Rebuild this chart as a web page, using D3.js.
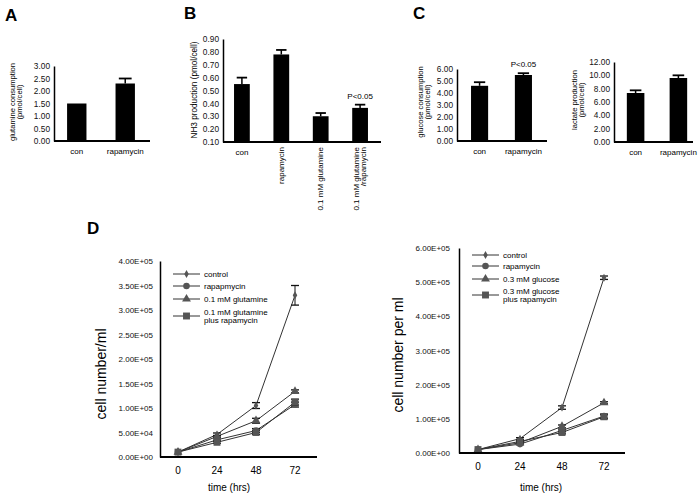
<!DOCTYPE html>
<html><head><meta charset="utf-8">
<script src="https://cdn.jsdelivr.net/npm/d3@7"></script>
<style>body{margin:0;background:#fff}svg{display:block;font-family:"Liberation Sans",Arial,sans-serif}</style>
</head><body><svg id="c" width="700" height="497"></svg>
<script>
// ---------- DATA ----------
const catsA = ["con", "rapamycin"];
const valsA = [1.5, 2.3];
const errsA = [0, 0.2];
const ticksA = [0, 0.5, 1, 1.5, 2, 2.5, 3];

const catsB = ["con", "rapamycin", "0.1 mM glutamine", "0.1 mM glutamine\n/rapamycin"];
const valsB = [0.55, 0.78, 0.30, 0.365];
const errsB = [0.05, 0.035, 0.025, 0.025];
const ticksB = [0.1, 0.2, 0.3, 0.4, 0.5, 0.6, 0.7, 0.8, 0.9];

const catsC1 = ["con", "rapamycin"];
const valsC1 = [4.6, 5.5];
const errsC1 = [0.3, 0.15];
const ticksC1 = [0, 1, 2, 3, 4, 5, 6];

const catsC2 = ["con", "rapamycin"];
const valsC2 = [7.35, 9.6];
const errsC2 = [0.4, 0.4];
const ticksC2 = [0, 2, 4, 6, 8, 10, 12];

const hours = [0, 24, 48, 72];
const seriesNamesL = ["control", "rapapmycin", "0.1 mM glutamine", "0.1 mM glutamine\nplus rapamycin"];
const controlL = [1.0e4, 4.6e4, 1.05e5, 3.3e5];
const controlLErr = [0, 3e3, 6e3, 2.0e4];
const rapaL = [1.0e4, 3.5e4, 5.4e4, 1.07e5];
const rapaLErr = [0, 2e3, 4e3, 5e3];
const glutL = [1.0e4, 4.2e4, 7.4e4, 1.34e5];
const glutLErr = [0, 2e3, 5e3, 3e3];
const glutRapaL = [1.0e4, 3.0e4, 5.0e4, 1.12e5];
const glutRapaLErr = [0, 2e3, 4e3, 6e3];
const ticksDL = [0, 5e4, 1e5, 1.5e5, 2e5, 2.5e5, 3e5, 3.5e5, 4e5];

const seriesNamesR = ["control", "rapamycin", "0.3 mM glucose", "0.3 mM glucose\nplus rapamycin"];
const controlR = [1.0e4, 4.2e4, 1.33e5, 5.13e5];
const controlRErr = [0, 3e3, 5e3, 5e3];
const rapaR = [1.0e4, 2.6e4, 6.6e4, 1.08e5];
const rapaRErr = [0, 2e3, 4e3, 6e3];
const glucR = [1.0e4, 3.0e4, 7.8e4, 1.47e5];
const glucRErr = [0, 2e3, 4e3, 3e3];
const glucRapaR = [1.0e4, 3.4e4, 6.0e4, 1.06e5];
const glucRapaRErr = [0, 2e3, 4e3, 6e3];
const ticksDR = [0, 1e5, 2e5, 3e5, 4e5, 5e5, 6e5];

// ---------- DRAW ----------
const svg = d3.select("#c");
svg.append("rect").attr("width", 700).attr("height", 497).attr("fill", "#fff");

function letter(t, x, y) {
  svg.append("text").attr("x", x).attr("y", y).attr("font-size", 17).attr("font-weight", "bold").attr("fill", "#000").text(t);
}
letter("A", 5, 21); letter("B", 184, 19); letter("C", 413, 19); letter("D", 87, 234);

function multiText(g, lines, lh) {
  const n = lines.length;
  lines.forEach((l, i) => {
    g.append("tspan").attr("x", 0).attr("dy", i === 0 ? ((-(n - 1) / 2) * lh + 0.35 * 7.5) : lh).text(l);
  });
}

function barPanel(c) {
  const g = svg.append("g");
  const x = d3.scaleBand().domain(c.cats).range(c.xr).paddingInner(c.pi).paddingOuter(c.po);
  const y = d3.scaleLinear().domain(c.domain).range(c.yr);
  g.selectAll("rect.bar").data(c.vals).join("rect")
    .attr("x", (d, i) => x(c.cats[i])).attr("width", x.bandwidth())
    .attr("y", d => y(d)).attr("height", d => y(c.domain[0]) - y(d)).attr("fill", "#000");
  c.vals.forEach((v, i) => {
    if (!c.errs[i]) return;
    const cx = x(c.cats[i]) + x.bandwidth() / 2;
    g.append("line").attr("x1", cx).attr("x2", cx).attr("y1", y(v)).attr("y2", y(v + c.errs[i])).attr("stroke", "#000").attr("stroke-width", 1.5);
    g.append("line").attr("x1", cx - x.bandwidth() * 0.33).attr("x2", cx + x.bandwidth() * 0.33)
      .attr("y1", y(v + c.errs[i])).attr("y2", y(v + c.errs[i])).attr("stroke", "#000").attr("stroke-width", 1.8);
  });
  const ax = g.append("g").attr("transform", `translate(${c.xr[0]},0)`)
    .call(d3.axisLeft(y).tickValues(c.ticks).tickSize(0).tickPadding(4).tickFormat(d3.format(".2f")));
  ax.select(".domain").attr("stroke-width", 1.5).attr("stroke", "#000");
  ax.selectAll("text").attr("font-size", 8.3).attr("font-family", "Liberation Sans, Arial, sans-serif").attr("fill", "#111");
  g.append("line").attr("x1", c.xr[0]).attr("x2", c.axisEnd).attr("y1", y(c.domain[0])).attr("y2", y(c.domain[0]))
    .attr("stroke", "#000").attr("stroke-width", 1.8);
  c.cats.forEach((cat, i) => {
    const cx = x(cat) + x.bandwidth() / 2;
    if (c.rotate && i > 0) {
      const t = g.append("text").attr("transform", `translate(${cx},${y(c.domain[0]) + 5}) rotate(-90)`)
        .attr("text-anchor", "end").attr("font-size", 8).attr("fill", "#000");
      multiText(t, cat.split("\n"), 7.5);
    } else {
      g.append("text").attr("x", cx).attr("y", y(c.domain[0]) + 13).attr("text-anchor", "middle").attr("font-size", 8).attr("fill", "#000").text(cat);
    }
  });
  const yl = g.append("text").attr("transform", `translate(${c.ylx},${c.yly}) rotate(-90)`)
    .attr("text-anchor", "middle").attr("font-size", c.ylfs || 7.6).attr("fill", "#000");
  multiText(yl, c.ylabel, 7.2);
  if (c.annot) {
    const i = c.annot.index;
    g.append("text").attr("x", x(c.cats[i]) + x.bandwidth() / 2)
      .attr("y", y(c.vals[i] + c.errs[i]) - 6).attr("text-anchor", "middle").attr("font-size", 8).attr("fill", "#000").text(c.annot.text);
  }
}

barPanel({cats: catsA, vals: valsA, errs: errsA, ticks: ticksA, domain: [0, 3], xr: [54, 148], pi: 0.6, po: 0.27,
  yr: [141, 66], axisEnd: 150, ylabel: ["glutamine consumption", "(pmol/cell)"], ylx: 16, yly: 102});
barPanel({cats: catsB, vals: valsB, errs: errsB, ticks: ticksB, domain: [0.1, 0.9], xr: [223, 379], pi: 0.6, po: 0.28,
  yr: [142, 39], axisEnd: 381, rotate: true, ylabel: ["NH3 production (pmol/cell)"], ylx: 194, yly: 90, ylfs: 8.2,
  annot: {index: 3, text: "P<0.05"}});
barPanel({cats: catsC1, vals: valsC1, errs: errsC1, ticks: ticksC1, domain: [0, 6], xr: [457, 546], pi: 0.61, po: 0.32,
  yr: [141, 69], axisEnd: 547, ylabel: ["glucose consumption", "(pmol/cell)"], ylx: 424, yly: 102,
  annot: {index: 1, text: "P<0.05"}});
barPanel({cats: catsC2, vals: valsC2, errs: errsC2, ticks: ticksC2, domain: [0, 12], xr: [614, 700], pi: 0.59, po: 0.3,
  yr: [142, 62], axisEnd: 693, ylabel: ["lactate production", "(pmol/cell)"], ylx: 578, yly: 100});

const symbols = [d3.symbolDiamond, d3.symbolCircle, d3.symbolTriangle, d3.symbolSquare];
const symSizes = [18, 34, 34, 48];

function linePanel(c) {
  const g = svg.append("g");
  const x = d3.scaleLinear().domain([0, 72]).range(c.xr);
  const y = d3.scaleLinear().domain(c.domain).range(c.yr);
  const line = d3.line().x((d, i) => x(hours[i])).y(d => y(d));
  c.series.forEach((s) => {
    g.append("path").attr("d", line(s)).attr("fill", "none").attr("stroke", "#333").attr("stroke-width", 1);
  });
  c.series.forEach((s, k) => {
    s.forEach((v, i) => {
      const e = c.errs[k][i];
      const cx = x(hours[i]);
      if (e) {
        g.append("line").attr("x1", cx).attr("x2", cx).attr("y1", y(v - e)).attr("y2", y(v + e)).attr("stroke", "#111").attr("stroke-width", 1);
        [v - e, v + e].forEach(w => g.append("line").attr("x1", cx - 4).attr("x2", cx + 4).attr("y1", y(w)).attr("y2", y(w)).attr("stroke", "#111").attr("stroke-width", 1.3));
      }
      g.append("path").attr("d", d3.symbol(symbols[k], symSizes[k])()).attr("transform", `translate(${cx},${y(v)})`).attr("fill", "#555");
    });
  });
  const ax = g.append("g").attr("transform", `translate(${c.axX[0]},0)`)
    .call(d3.axisLeft(y).tickValues(c.ticks).tickSize(0).tickPadding(c.tp).tickFormat(d => d3.format(".2e")(d).replace(/e([+-])(\d)$/, "E$10$2").replace("e", "E")));
  ax.select(".domain").attr("stroke-width", 1.5).attr("stroke", "#000");
  ax.selectAll("text").attr("font-size", 8).attr("font-family", "Liberation Sans, Arial, sans-serif").attr("fill", "#111");
  g.append("line").attr("x1", c.axX[0]).attr("x2", c.axX[1]).attr("y1", y(0)).attr("y2", y(0)).attr("stroke", "#000").attr("stroke-width", 2);
  hours.forEach(h => g.append("text").attr("x", x(h)).attr("y", y(0) + 17).attr("text-anchor", "middle").attr("font-size", 10).attr("fill", "#000").text(h));
  g.append("text").attr("x", c.tx).attr("y", 491).attr("text-anchor", "middle").attr("font-size", 10).attr("fill", "#000").text("time (hrs)");
  g.append("text").attr("transform", `translate(${c.ylx},${c.yly}) rotate(-90)`).attr("text-anchor", "middle").attr("font-size", 14).attr("fill", "#000").text(c.ylabel);
  c.names.forEach((n, k) => {
    const ly = c.legY[k];
    g.append("line").attr("x1", c.legX).attr("x2", c.legX + 27).attr("y1", ly).attr("y2", ly).attr("stroke", "#333").attr("stroke-width", 1);
    g.append("path").attr("d", d3.symbol(symbols[k], symSizes[k])()).attr("transform", `translate(${c.legX + 13.5},${ly})`).attr("fill", "#555");
    const t = g.append("text").attr("font-size", 8).attr("fill", "#000").attr("transform", `translate(${c.legX + 31},${ly})`);
    const lines = n.split("\n");
    lines.forEach((l, i) => t.append("tspan").attr("x", 0).attr("dy", i === 0 ? (lines.length > 1 ? -1.5 : 3) : 8).text(l));
  });
}

linePanel({xr: [178, 295], yr: [457, 261], domain: [0, 4e5], axX: [160, 317], ticks: ticksDL, tp: 7,
  series: [controlL, rapaL, glutL, glutRapaL], errs: [controlLErr, rapaLErr, glutLErr, glutRapaLErr],
  names: seriesNamesL, legX: 173, legY: [274, 286, 299, 316], tx: 229, ylx: 106, yly: 374, ylabel: "cell number/ml"});
linePanel({xr: [478, 604], yr: [453, 248], domain: [0, 6e5], axX: [459, 625], ticks: ticksDR, tp: 9,
  series: [controlR, rapaR, glucR, glucRapaR], errs: [controlRErr, rapaRErr, glucRErr, glucRapaRErr],
  names: seriesNamesR, legX: 472, legY: [255, 266, 279, 295], tx: 541, ylx: 403, yly: 355, ylabel: "cell number per ml"});
</script>
</body></html>
